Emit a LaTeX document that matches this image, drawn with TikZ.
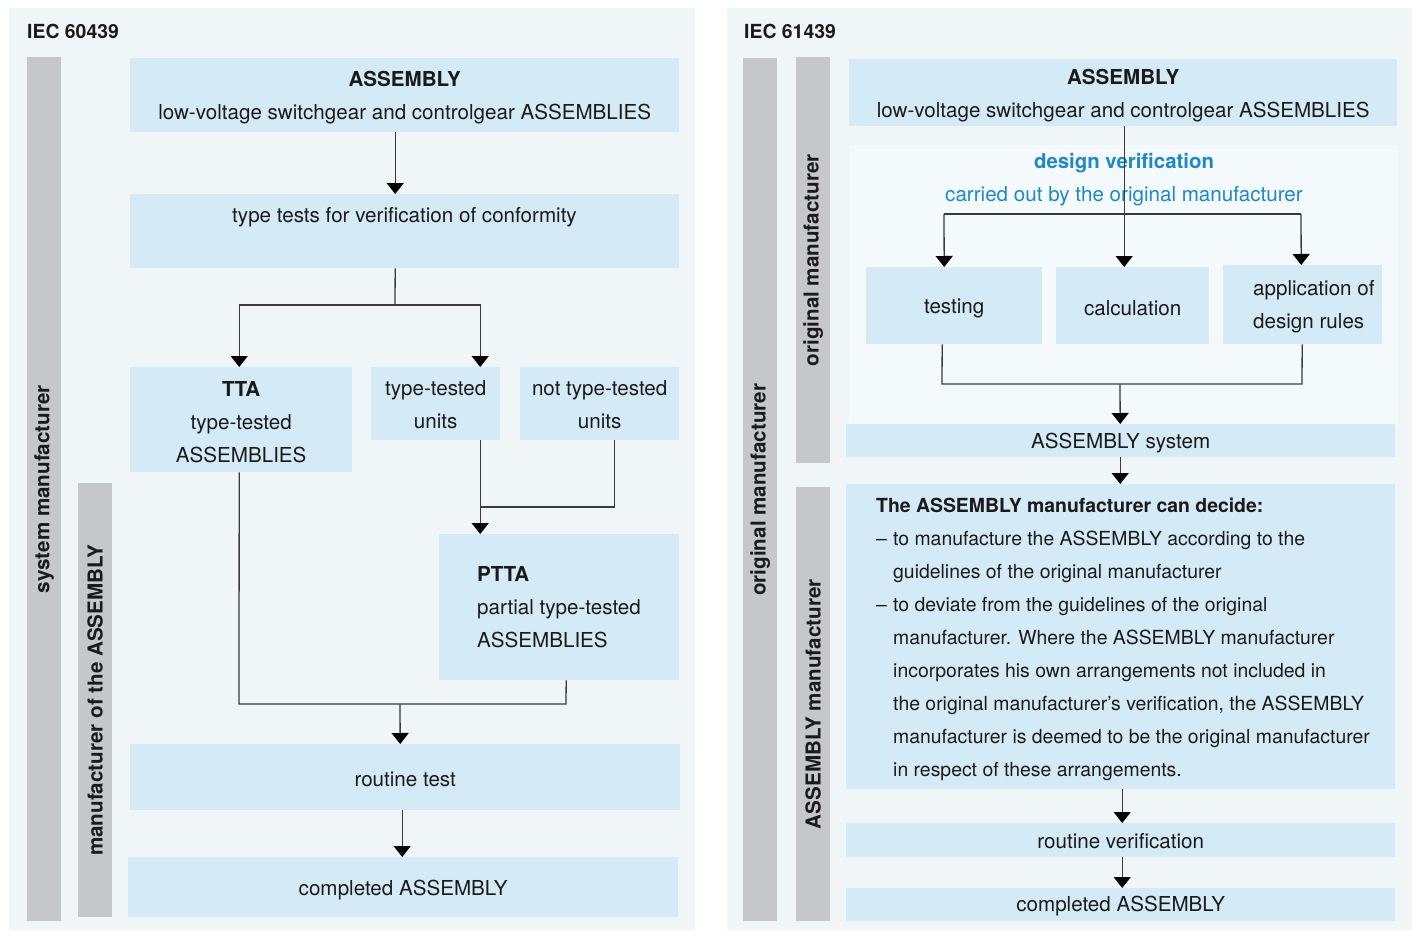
\documentclass[tikz,border=0pt]{standalone}
\usepackage{fontspec}
\setmainfont{TeX Gyre Heros}
\usetikzlibrary{arrows.meta}
\definecolor{panelbg}{HTML}{F0F6F7}
\definecolor{boxblue}{HTML}{D5EAF7}
\definecolor{bargrey}{HTML}{C6C7C9}
\definecolor{lightreg}{HTML}{F4F9FC}
\definecolor{txt}{HTML}{1A1A1A}
\definecolor{linec}{HTML}{3A3A3A}
\definecolor{dvblue}{HTML}{1E88CA}
\begin{document}
\begin{tikzpicture}[x=1pt,y=-1pt,
 panel/.style={fill=panelbg, inner sep=0pt, anchor=north west},
 box/.style={fill=boxblue, inner sep=0pt, anchor=north west},
 bar/.style={fill=bargrey, inner sep=0pt, anchor=north west},
 side/.style={rotate=90, font=\bfseries\fontsize{20.6}{24}\selectfont, text=txt, inner sep=0pt},
 lbl/.style={text=txt, inner sep=0pt, align=center, font=\fontsize{20.6}{33}\selectfont},
 head/.style={font=\bfseries\fontsize{19.4}{24}\selectfont, text=txt, anchor=base west, inner sep=0pt},
 conn/.style={draw=linec, line width=1.3pt},
 arr/.style={conn, -{Triangle[width=17pt,length=11pt,color=black]}}
]
\useasboundingbox (0,0) rectangle (1416,931);
% panels
\node[panel, minimum width=686pt, minimum height=922pt] (pl) at (9,8) {};
\node[panel, minimum width=685pt, minimum height=922pt] (pr) at (727,8) {};
\node[head] (h1) at (27,39) {IEC 60439};
\node[head] (h2) at (744,39) {IEC 61439};
% ---------- left panel ----------
\node[bar, minimum width=34pt, minimum height=864pt] (bar1) at (27,57) {};
\node[bar, minimum width=34pt, minimum height=434pt] (bar2) at (78,483) {};
\node[side] (l1) at (bar1.center) {system manufacturer};
\node[side] (l2) at (bar2.center) {manufacturer of the ASSEMBLY};

\node[box, minimum width=549pt, minimum height=74pt] (asm1) at (130,58) {};
\node[lbl] (asm1t) at ([yshift=-2pt]asm1.center) {\textbf{ASSEMBLY}\\low-voltage switchgear and controlgear ASSEMBLIES};
\node[box, minimum width=549pt, minimum height=74pt] (tt) at (130,194) {};
\node[lbl] (ttt) at (404.5,217) {type tests for verification of conformity};
\node[box, minimum width=222pt, minimum height=105pt] (tta) at (130,367) {};
\node[lbl] (ttat) at ([yshift=-2pt]tta.center) {\textbf{TTA}\\type-tested\\ASSEMBLIES};
\node[box, minimum width=129pt, minimum height=73pt] (ttu) at (371,367) {};
\node[lbl] (ttut) at ([yshift=-1pt]ttu.center) {type-tested\\units};
\node[box, minimum width=159pt, minimum height=73pt] (nttu) at (520,367) {};
\node[lbl] (nttut) at ([yshift=-1pt]nttu.center) {not type-tested\\units};
\node[box, minimum width=240pt, minimum height=146pt] (ptta) at (439,534) {};
\node[lbl, anchor=west, align=left] (pttat) at (477,607) {\textbf{PTTA}\\partial type-tested\\ASSEMBLIES};
\node[box, minimum width=550pt, minimum height=66pt] (rt) at (130,744) {};
\node[lbl] (rtt) at ([yshift=-2pt]rt.center) {routine test};
\node[box, minimum width=550pt, minimum height=60pt] (ca1) at (128,857) {};
\node[lbl] (ca1t) at ([yshift=-2.5pt]ca1.center) {completed ASSEMBLY};

\coordinate (s1) at (395,305);
\coordinate (j1) at (480,507);
\coordinate (j2) at (239,704);
\coordinate (j3) at (566,704);
\coordinate (m1) at (400,704);
\draw[arr] ([xshift=-9.5pt]asm1.south) -- ([xshift=-9.5pt]tt.north);
\draw[conn] ([xshift=-9.5pt]tt.south) -- (s1);
\draw[arr] (s1) -| ([xshift=-2pt]tta.north);
\draw[arr] (s1) -| ([xshift=44.5pt]ttu.north);
\draw[arr] ([xshift=44.5pt]ttu.south) -- ([xshift=-79pt]ptta.north);
\draw[conn] ([xshift=15pt]nttu.south) |- (j1);
\draw[conn] ([xshift=-2pt]tta.south) -- (j2) -- (j3) -- ([xshift=7pt]ptta.south);
\draw[arr] (m1) -- ([xshift=-5pt]rt.north);
\draw[arr] ([xshift=-3pt]rt.south) -- ([xshift=-1pt]ca1.north);

% ---------- right panel ----------
\node[bar, minimum width=34pt, minimum height=863pt] (bar3) at (743,58) {};
\node[bar, minimum width=34pt, minimum height=406pt] (bar4) at (796,57) {};
\node[bar, minimum width=34pt, minimum height=434pt] (bar5) at (796,487) {};
\node[side] (l3) at (bar3.center) {original manufacturer};
\node[side] (l4) at (bar4.center) {original manufacturer};
\node[side] (l5) at (bar5.center) {ASSEMBLY manufacturer};

\node[box, minimum width=548pt, minimum height=67pt] (asm2) at (849,59) {};
\node[lbl] (asm2t) at ([yshift=-2.5pt]asm2.center) {\textbf{ASSEMBLY}\\low-voltage switchgear and controlgear ASSEMBLIES};
\node[panel, fill=lightreg, minimum width=549pt, minimum height=282pt] (dvreg) at (849,145) {};
\node[lbl, text=dvblue, font=\bfseries\fontsize{20.4}{24}\selectfont] (dv1) at (1124,163) {design verification};
\node[lbl, text=dvblue] (dv2) at (1124,196.5) {carried out by the original manufacturer};
\node[box, minimum width=176pt, minimum height=77pt] (test) at (866,267) {};
\node[lbl] (testt) at ([yshift=-2.5pt]test.center) {testing};
\node[box, minimum width=153pt, minimum height=77pt] (calc) at (1056,267) {};
\node[lbl] (calct) at ([yshift=-2pt]calc.center) {calculation};
\node[box, minimum width=159pt, minimum height=79pt] (app) at (1223,265) {};
\node[lbl, anchor=west, align=left] (appt) at (1253,307) {application of\\design rules};
\node[box, minimum width=549pt, minimum height=33pt] (asys) at (846,424) {};
\node[lbl] (asyst) at ([yshift=-2.5pt]asys.center) {ASSEMBLY system};
\node[box, minimum width=549pt, minimum height=305pt] (dec) at (846,484) {};
\node[lbl, anchor=north west, align=left, font=\fontsize{19.4}{33}\selectfont] (dect) at (876,498) {\textbf{The ASSEMBLY manufacturer can decide:}\\
\makebox[17pt][l]{–}to manufacture the ASSEMBLY according to the\\
\hspace*{17pt}guidelines of the original manufacturer\\
\makebox[17pt][l]{–}to deviate from the guidelines of the original\\
\hspace*{17pt}manufacturer. Where the ASSEMBLY manufacturer\\
\hspace*{17pt}incorporates his own arrangements not included in\\
\hspace*{17pt}the original manufacturer’s verification, the ASSEMBLY\\
\hspace*{17pt}manufacturer is deemed to be the original manufacturer\\
\hspace*{17pt}in respect of these arrangements.};
\node[box, minimum width=549pt, minimum height=34pt] (rv) at (846,823) {};
\node[lbl] (rvt) at ([yshift=-0.5pt]rv.center) {routine verification};
\node[box, minimum width=549pt, minimum height=33pt] (ca2) at (846,888) {};
\node[lbl] (ca2t) at ([yshift=-1.5pt]ca2.center) {completed ASSEMBLY};

\coordinate (s2l) at (944,214);
\coordinate (s2r) at (1301,214);
\coordinate (b1) at (942,384);
\coordinate (b2) at (1302,384);
\coordinate (m2) at (1120,384);
\draw[arr] ([xshift=1pt]asm2.south) -- ([xshift=-8.5pt]calc.north);
\draw[conn] (s2l) -- (s2r);
\draw[arr] (s2l) -- ([xshift=-10pt]test.north);
\draw[arr] (s2r) -- ([xshift=-1.5pt]app.north);
\draw[conn] ([xshift=-12pt]test.south) -- (b1) -- (b2) -- ([xshift=-0.5pt]app.south);
\draw[arr] (m2) -- ([xshift=-0.5pt]asys.north);
\draw[arr] ([xshift=-0.5pt]asys.south) -- ([xshift=-0.5pt]dec.north);
\draw[arr] ([xshift=1.5pt]dec.south) -- ([xshift=1.5pt]rv.north);
\draw[arr] ([xshift=1.5pt]rv.south) -- ([xshift=1.5pt]ca2.north);
\end{tikzpicture}
\end{document}
